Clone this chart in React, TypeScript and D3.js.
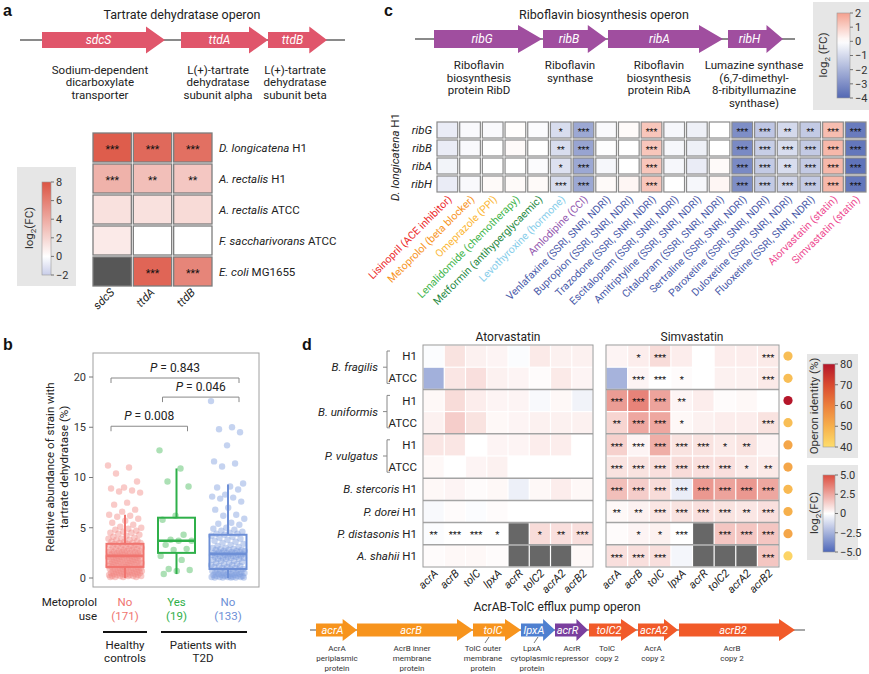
import React from 'react';
import * as d3 from 'd3';

const FONT = "Roboto, 'Liberation Sans', Arial, sans-serif";
const MINUS = '\u2212';

// ---------- panel a: tartrate dehydratase operon ----------
const ttdGenes = ['sdcS', 'ttdA', 'ttdB'];
const ttdGeneStart = [0, 1.39, 2.26];
const ttdGeneEnd = [1.23, 2.26, 2.85];
const ttdNoteAt = [0.58, 1.76, 2.53];
const ttdNotes = [
  ['Sodium-dependent', 'dicarboxylate', 'transporter'],
  ['L(+)-tartrate', 'dehydratase', 'subunit alpha'],
  ['L(+)-tartrate', 'dehydratase', 'subunit beta'],
];
const ttdSpecies = ['D. longicatena', 'A. rectalis', 'A. rectalis', 'F. saccharivorans', 'E. coli'];
const ttdStrain = ['H1', 'H1', 'ATCC', 'ATCC', 'MG1655'];
const ttdLog2FC = [
  [7.6, 7.0, 6.7],
  [3.6, 3.0, 2.6],
  [1.4, 1.4, 1.7],
  [1.0, 0, 0],
  [null, 7.2, 5.7],
];
const ttdStars = [
  ['***', '***', '***'],
  ['***', '**', '**'],
  ['', '', ''],
  ['', '', ''],
  ['', '***', '***'],
];
const ttdTicks = [8, 6, 4, 2, 0, -2];

// ---------- panel b: metoprolol box plot ----------
const bUse = ['No', 'Yes', 'No'];
const bCounts = ['(171)', '(19)', '(133)'];
const bColors = ['#f0746f', '#2fb04a', '#6d8fd6'];
const bPointColors = ['#f28a85', '#47ba5c', '#7f9edd'];
const healthyNo = [
  11.2, 11.0, 10.4, 9.6, 9.0, 8.9, 8.7, 8.6, 8.5, 7.5, 7.3, 6.8, 6.6, 6.3, 6.2, 6.1, 5.9, 5.7, 5.5, 5.3, 5.1, 5.0,
  4.9, 4.8, 4.7, 4.6, 4.5, 4.5, 4.4, 4.3, 4.2, 4.1, 4.0, 3.9, 3.9, 3.8, 3.8, 3.7, 3.6, 3.6, 3.5, 3.5, 3.5,
  3.4, 3.4, 3.3, 3.3, 3.3, 3.2, 3.2, 3.2, 3.1, 3.1, 3.0, 3.0, 3.0, 2.9, 2.9, 2.9, 2.8, 2.8, 2.8, 2.7, 2.7, 2.7,
  2.6, 2.6, 2.6, 2.6, 2.5, 2.5, 2.5, 2.5, 2.4, 2.4, 2.4, 2.4, 2.3, 2.3, 2.3, 2.3, 2.3, 2.2, 2.2, 2.2, 2.2,
  2.1, 2.1, 2.1, 2.1, 2.0, 2.0, 2.0, 2.0, 1.9, 1.9, 1.9, 1.9, 1.8, 1.8, 1.8, 1.8, 1.7, 1.7, 1.7, 1.7, 1.6, 1.6,
  1.6, 1.6, 1.5, 1.5, 1.5, 1.5, 1.4, 1.4, 1.4, 1.4, 1.3, 1.3, 1.3, 1.3, 1.2, 1.2, 1.2, 1.2, 1.1, 1.1, 1.1,
  1.0, 1.0, 1.0, 1.0, 0.9, 0.9, 0.9, 0.9, 0.8, 0.8, 0.8, 0.8, 0.7, 0.7, 0.7, 0.7, 0.6, 0.6, 0.6, 0.6, 0.5, 0.5,
  0.5, 0.5, 0.4, 0.4, 0.4, 0.4, 0.3, 0.3, 0.3, 0.3, 0.3, 0.2, 0.2, 0.2, 0.2, 0.2, 0.1, 0.1, 0.1, 0.1,
];
const t2dYes = [12.7, 10.9, 9.6, 9.1, 6.2, 5.8, 4.3, 3.8, 3.7, 3.7, 3.3, 2.9, 2.8, 2.2, 1.8, 0.9, 0.8, 0.7, 0.4];
const t2dNo = [
  17.6, 15.0, 14.8, 14.5, 13.2, 11.6, 11.4, 11.1, 9.4, 9.1, 9.0, 8.8, 8.3, 8.1, 8.0, 7.9, 7.6, 7.0, 6.8, 6.3, 6.2,
  5.9, 5.5, 5.4, 5.3, 5.0, 4.9, 4.8, 4.7, 4.6, 4.5, 4.4, 4.4,
  4.3, 4.2, 4.1, 4.0, 3.9, 3.8, 3.7, 3.6, 3.5, 3.4, 3.3, 3.2, 3.1, 3.0, 3.0, 2.9, 2.9, 2.8, 2.8, 2.8, 2.7, 2.7,
  2.7, 2.6, 2.6, 2.6, 2.5, 2.5, 2.5, 2.5, 2.4, 2.4, 2.4,
  2.3, 2.3, 2.3, 2.2, 2.2, 2.2, 2.1, 2.1, 2.1, 2.0, 2.0, 2.0, 1.9, 1.9, 1.9, 1.8, 1.7, 1.7, 1.6, 1.5, 1.5, 1.4,
  1.4, 1.3, 1.3, 1.2, 1.2, 1.1, 1.1, 1.0, 1.0, 0.9, 0.9,
  0.8, 0.8, 0.8, 0.7, 0.7, 0.7, 0.6, 0.6, 0.6, 0.5, 0.5, 0.5, 0.4, 0.4, 0.4, 0.3, 0.3, 0.3, 0.3, 0.2, 0.2, 0.2,
  0.2, 0.2, 0.1, 0.1, 0.1, 0.1, 0.1, 0.05, 0.05, 0.05, 0.05, 0.05,
];
const bValues = [healthyNo, t2dYes, t2dNo];
const boxQ1 = [1.1, 2.5, 0.9];
const boxMedian = [2.2, 3.7, 2.4];
const boxQ3 = [3.4, 6.0, 4.3];
const whiskerLo = [0, 0.4, 0];
const whiskerHi = [6.3, 10.9, 9.3];
const pTexts = ['0.843', '0.046', '0.008'];
const pFrom = [0, 1, 0];
const pTo = [2, 2, 1];
const pLevel = [19.9, 18.0, 15.1];
const bTicks = [0, 5, 10, 15, 20];

// ---------- panel c: riboflavin operon ----------
const ribGenes = ['ribG', 'ribB', 'ribA', 'ribH'];
const ribGeneStart = [0, 1.09, 1.74, 2.94];
const ribGeneEnd = [1.08, 1.73, 2.89, 3.49];
const ribNoteAt = [0.45, 1.36, 2.25, 3.2];
const ribNotes = [
  ['Riboflavin', 'biosynthesis', 'protein RibD'],
  ['Riboflavin', 'synthase'],
  ['Riboflavin', 'biosynthesis', 'protein RibA'],
  ['Lumazine synthase', '(6,7-dimethyl-', '8-ribityllumazine', 'synthase)'],
];
const drugs = [
  'Lisinopril (ACE inhibitor)', 'Metoprolol (beta blocker)', 'Omeprazole (PPI)', 'Lenalidomide (chemotherapy)',
  'Metformin (antihyperglycaemic)', 'Levothyroxine (hormone)', 'Amlodipine (CCI)', 'Venlafaxine (SSRI, SNRI, NDRI)',
  'Bupropion (SSRI, SNRI, NDRI)', 'Trazodone (SSRI, SNRI, NDRI)', 'Escitalopram (SSRI, SNRI, NDRI)',
  'Amitriptyline (SSRI, SNRI, NDRI)', 'Citalopram (SSRI, SNRI, NDRI)', 'Sertraline (SSRI, SNRI, NDRI)',
  'Paroxetine (SSRI, SNRI, NDRI)', 'Duloxetine (SSRI, SNRI, NDRI)', 'Fluoxetine (SSRI, SNRI, NDRI)',
  'Atorvastatin (statin)', 'Simvastatin (statin)',
];
const drugColors = [
  '#ec2a2c', '#f7941d', '#fbb735', '#3fb54c', '#26893f', '#86cdea', '#9358b0', '#4a5aa9', '#4a5aa9', '#4a5aa9',
  '#4a5aa9', '#4a5aa9', '#4a5aa9', '#4a5aa9', '#4a5aa9', '#4a5aa9', '#4a5aa9', '#ee4a91', '#ee4a91',
];
// rows: ribG, ribB, ribA, ribH ; one column per drug
const ribLog2FC = [
  [-0.5, -0.15, -0.15, 0.05, -0.1, -0.9, -2.3, -0.15, 0.1, 1.2, -0.2, -0.4, 0, -3.0, -1.5, -1.0, -1.4, 1.4, -3.5],
  [-0.5, -0.15, 0, 0.1, 0, -0.9, -2.4, -0.05, 0, 1.2, -0.2, -0.4, 0, -3.1, -1.3, -0.9, -1.4, 1.5, -3.6],
  [-0.3, 0, 0, 0, -0.1, -0.8, -2.3, -0.2, 0, 1.2, -0.2, -0.5, 0.1, -3.1, -1.4, -0.9, -1.4, 1.5, -3.7],
  [-0.5, -0.15, 0.1, 0.1, 0.1, -0.9, -2.3, 0.1, 0.2, 1.2, 0, -0.2, 0.2, -3.0, -1.4, -1.1, -1.4, 1.5, -3.6],
];
const ribStars = [
  ['', '', '', '', '', '*', '***', '', '', '***', '', '', '', '***', '***', '**', '**', '***', '***'],
  ['', '', '', '', '', '**', '***', '', '', '***', '', '', '', '***', '***', '***', '***', '***', '***'],
  ['', '', '', '', '', '*', '***', '', '', '***', '', '', '', '***', '***', '**', '***', '***', '***'],
  ['', '', '', '', '', '***', '***', '', '', '***', '', '', '', '***', '***', '***', '***', '***', '***'],
];
const ribTicks = [2, 1, 0, -1, -2, -3, -4];

// ---------- panel d: AcrAB-TolC operon ----------
const acrGenes = ['acrA', 'acrB', 'tolC', 'lpxA', 'acrR', 'tolC2', 'acrA2', 'acrB2'];
const acrGeneStart = [0, 0.41, 1.57, 2.05, 2.39, 2.73, 3.22, 3.63];
const acrGeneEnd = [0.41, 1.57, 2.05, 2.39, 2.72, 3.21, 3.62, 4.79];
const acrGeneColors = ['#f7941d', '#f7941d', '#f7941d', '#4f80d0', '#7a3f9e', '#f15a29', '#f15a29', '#f15a29'];
const acrNoteAt = [0.21, 0.96, 1.67, 2.16, 2.56, 2.91, 3.37, 4.16];
const acrNotes = [
  ['AcrA', 'periplasmic', 'protein'],
  ['AcrB inner', 'membrane', 'protein'],
  ['TolC outer', 'membrane', 'protein'],
  ['LpxA', 'cytoplasmic', 'protein'],
  ['AcrR', 'repressor'],
  ['TolC', 'copy 2'],
  ['AcrA', 'copy 2'],
  ['AcrB', 'copy 2'],
];
const acrLeader = [false, false, true, true, false, false, false, false];
const dSpecies = ['B. fragilis', 'B. fragilis', 'B. uniformis', 'B. uniformis', 'P. vulgatus', 'P. vulgatus',
  'B. stercoris', 'P. dorei', 'P. distasonis', 'A. shahii'];
const dStrain = ['H1', 'ATCC', 'H1', 'ATCC', 'H1', 'ATCC', 'H1', 'H1', 'H1', 'H1'];
const operonIdentity = [47, 47, 80, 47, 52, 52, 48, 50, 52, 42];
const atorvaFC = [
  [-0.1, 0.8, 0.4, 0.3, -0.1, 0.6, 0.4, 0.4],
  [-2.6, 0.7, 0.9, 0.4, 0.3, 0.1, 0.6, 0.3],
  [0.2, 1.0, 0.5, 0.3, 0.3, -0.2, 0.2, -0.4],
  [0.4, 1.4, 0.8, 0.2, 0.3, 0.4, 0.4, 0.4],
  [0.7, 0.7, 0, 0.3, 0.3, 0.5, 0.5, 0],
  [0.2, 0, 0.3, 0.4, 0, 0, 0, 0],
  [0.2, 0.3, 0.1, 0.2, -0.5, 0.2, 0.5, 0.2],
  [-0.2, 0.1, -0.1, 0.1, 0, 0, 0, 0],
  [-0.1, 0, 0, 0, null, 1.0, 0.9, 0.9],
  [0.1, 0.2, 0.2, 0.1, null, null, null, 0.2],
];
const atorvaStars = [
  ['', '', '', '', '', '', '', ''],
  ['', '', '', '', '', '', '', ''],
  ['', '', '', '', '', '', '', ''],
  ['', '', '', '', '', '', '', ''],
  ['', '', '', '', '', '', '', ''],
  ['', '', '', '', '', '', '', ''],
  ['', '', '', '', '', '', '', ''],
  ['', '', '', '', '', '', '', ''],
  ['**', '***', '***', '*', '', '*', '**', '***'],
  ['', '', '', '', '', '', '', ''],
];
const simvaFC = [
  [0.3, 0.5, 1.0, 0.5, 0, 0.5, 0.5, 0.6],
  [-2.5, 0.3, 0, 0.1, 0, 0.4, 0.4, 0.6],
  [2.8, 3.5, 2.6, 0.3, 0.5, 0.1, 0.2, 0],
  [1.2, 2.5, 2.5, 0.2, 0.4, 0.5, 0.5, 0.8],
  [1.3, 0.3, 2.3, 0.8, 0.8, 0.6, 0.8, 0.3],
  [0.8, 0.8, 0.9, 1.0, 0.9, 0.9, 0.6, 0.6],
  [1.8, 1.4, 1.0, -0.6, 2.9, 2.6, 2.9, 2.5],
  [0.2, 0.4, 0.7, 0.8, 0.9, 0.8, 0.7, 0.9],
  [0.1, 0.3, 0.4, 0, null, 1.6, 1.6, 1.6],
  [0.9, 0.9, 0.9, -0.3, null, null, null, 1.6],
];
const simvaStars = [
  ['', '*', '***', '', '', '', '', '***'],
  ['', '***', '***', '*', '', '', '', '***'],
  ['***', '***', '***', '**', '', '', '', ''],
  ['**', '***', '***', '*', '', '', '', '***'],
  ['***', '***', '***', '***', '***', '*', '**', ''],
  ['***', '***', '***', '***', '***', '***', '*', '**'],
  ['***', '***', '***', '***', '***', '***', '***', '***'],
  ['**', '**', '***', '***', '***', '***', '**', '***'],
  ['', '*', '*', '***', '', '***', '***', '***'],
  ['***', '***', '***', '', '', '', '', '***'],
];
const identityTicks = [80, 70, 60, 50, 40];
const dFCTicks = [5, 2.5, 0, -2.5, -5];

// ---------- helpers ----------
function arrowPath(x0: number, x1: number, y: number, hb: number, hh: number, head: number) {
  const xh = Math.max(x0, x1 - head);
  return `M${x0},${y - hb}L${xh},${y - hb}L${xh},${y - hh}L${x1},${y}L${xh},${y + hh}L${xh},${y + hb}L${x0},${y + hb}Z`;
}

function ColorBar({ id, color, domain, x, y, w, h, ticks, fmt, fs }: any) {
  const ys = d3.scaleLinear().domain(domain).range([y + h, y]);
  const stops = d3.range(0, 1.0001, 0.05);
  return (
    <g>
      <defs>
        <linearGradient id={id} x1="0" y1="0" x2="0" y2="1">
          {stops.map((t: number) => (
            <stop key={t} offset={t} stopColor={color(domain[1] - t * (domain[1] - domain[0]))} />
          ))}
        </linearGradient>
      </defs>
      <rect x={x} y={y} width={w} height={h} fill={`url(#${id})`} stroke="#9a9a9a" strokeWidth={0.6} />
      {ticks.map((t: number) => (
        <g key={t}>
          <line x1={x + w} x2={x + w + 3} y1={ys(t)} y2={ys(t)} stroke="#555" strokeWidth={0.8} />
          <text x={x + w + 5} y={ys(t)} dy="0.35em" fontSize={fs} fill="#333">{fmt(t)}</text>
        </g>
      ))}
    </g>
  );
}

const fmtMinus = (v: number) => (v < 0 ? MINUS + Math.abs(v) : String(v));
const fmtMinus1 = (v: number) => (v < 0 ? MINUS + Math.abs(v).toFixed(1) : v === 0 ? '0' : v.toFixed(1));
const jitter = (i: number) => ((i * 0.6180339887) % 1) - 0.5;

function Log2Label({ x, y, fs, text }: any) {
  return (
    <text transform={`translate(${x},${y}) rotate(-90)`} textAnchor="middle" fontSize={fs} fill="#333">
      log<tspan dy={3} fontSize={fs * 0.7}>2</tspan><tspan dy={-3}>{text}</tspan>
    </text>
  );
}

const App = () => {
  // ---------- panel a ----------
  const ttdX = d3.scaleLinear().domain([0, 1]).range([42, 142]);
  const ttdCol = d3.scaleBand<string>().domain(ttdGenes).range([92, 213]);
  const ttdRow = d3.scaleBand<number>().domain(d3.range(ttdSpecies.length)).range([132, 287]);
  const colorA = d3.scaleLinear<string>().domain([-2, 0, 8]).range(['#c8cde9', '#ffffff', '#dc5443']);

  // ---------- panel b ----------
  const bx = d3.scalePoint<number>().domain([0, 1, 2]).range([125, 228]);
  const by = d3.scaleLinear().domain([0, 20]).range([578, 377]);

  // ---------- panel c ----------
  const ribX = d3.scaleLinear().domain([0, 1]).range([434, 534]);
  const ribCol = d3.scaleBand<number>().domain(d3.range(drugs.length)).range([436, 867]);
  const ribRow = d3.scaleBand<string>().domain(ribGenes).range([121, 193]);
  const colorC = d3.scaleLinear<string>().domain([-4, 0, 2]).range(['#5368b3', '#ffffff', '#f4a08e']);

  // ---------- panel d ----------
  const dRow = d3.scaleBand<number>().domain(d3.range(dSpecies.length)).range([345, 567]);
  const atorCol = d3.scaleBand<string>().domain(acrGenes).range([423, 593]);
  const simCol = d3.scaleBand<string>().domain(acrGenes).range([606, 779]);
  const colorD = d3.scaleLinear<string>().domain([-5, 0, 5]).range(['#4d67b9', '#ffffff', '#dc4e40']);
  const colorId = d3.scaleLinear<string>().domain([40, 50, 60, 70, 80])
    .range(['#fedd6c', '#f6b04c', '#ec7f3c', '#d94a30', '#b5162a']);
  const acrX = d3.scaleLinear().domain([0, 1]).range([316, 416]);

  // species groups for panel d labels
  const groups: { name: string; start: number; end: number }[] = [];
  dSpecies.forEach((s, i) => {
    const g = groups[groups.length - 1];
    if (g && g.name === s) g.end = i;
    else groups.push({ name: s, start: i, end: i });
  });

  const dHeat = (col: any, fc: (number | null)[][], stars: string[][], key: string) => (
    <g key={key}>
      {fc.map((row, r) => row.map((v, c) => {
        const x = col(acrGenes[c]);
        const y = dRow(r)!;
        return (
          <g key={`${r}-${c}`}>
            <rect x={x + 0.6} y={y + 0.6} width={col.bandwidth() - 1.2} height={dRow.bandwidth() - 1.2}
              fill={v === null ? '#676767' : colorD(v)} />
            {stars[r][c] && (
              <text x={x + col.bandwidth() / 2} y={y + dRow.bandwidth() / 2} dy="0.5em" textAnchor="middle"
                fontSize={9.5} fill="#111">{stars[r][c]}</text>
            )}
          </g>
        );
      }))}
      {groups.slice(1).map((g) => (
        <line key={g.name} x1={col.range()[0]} x2={col.range()[1]} y1={dRow(g.start)} y2={dRow(g.start)}
          stroke="#a3a3a3" strokeWidth={1.5} />
      ))}
      <rect x={col.range()[0]} y={345} width={col.range()[1] - col.range()[0]} height={222}
        fill="none" stroke="#9a9a9a" strokeWidth={1} />
      {acrGenes.map((g) => (
        <text key={g} transform={`translate(${col(g)! + col.bandwidth() / 2 + 5},${574}) rotate(-45)`}
          textAnchor="end" fontSize={11} fontStyle="italic" fill="#222">{g}</text>
      ))}
    </g>
  );

  return (
    <svg width={869} height={674} style={{ position: 'absolute', left: 0, top: 0, background: '#fff' }}
      fontFamily={FONT}>
      {/* panel letters */}
      <g fontWeight="bold" fontSize={16} fill="#111" fontFamily="'Liberation Sans', Arial, sans-serif">
        <text x={3} y={16}>a</text>
        <text x={3} y={350}>b</text>
        <text x={384} y={16}>c</text>
        <text x={302} y={350}>d</text>
      </g>

      {/* ================= panel a ================= */}
      <text x={182} y={15} dy="0.35em" textAnchor="middle" fontSize={12.5} fill="#222">Tartrate dehydratase operon</text>
      <line x1={ttdX(-0.22)} x2={ttdX(3.03)} y1={40} y2={40} stroke="#8a8a8a" strokeWidth={2} />
      {ttdGenes.map((g, i) => {
        const x0 = ttdX(ttdGeneStart[i]);
        const x1 = ttdX(ttdGeneEnd[i]);
        return (
          <g key={g}>
            <path d={arrowPath(x0, x1, 40, 8, 13.5, Math.min(19, (x1 - x0) * 0.3))} fill="#e0566b" />
            <text x={(x0 + x1 - 10) / 2} y={40} dy="0.35em" textAnchor="middle" fontSize={12}
              fontStyle="italic" fill="#fff">{g}</text>
            {ttdNotes[i].map((t, k) => (
              <text key={k} x={ttdX(ttdNoteAt[i])} y={70 + k * 12.4} dy="0.35em" textAnchor="middle"
                fontSize={11.5} fill="#222">{t}</text>
            ))}
          </g>
        );
      })}
      {ttdLog2FC.map((row, r) => row.map((v, c) => {
        const x = ttdCol(ttdGenes[c])!;
        const y = ttdRow(r)!;
        return (
          <g key={`a${r}-${c}`}>
            <rect x={x + 1} y={y + 1} width={ttdCol.bandwidth() - 2} height={ttdRow.bandwidth() - 2}
              fill={v === null ? '#575757' : colorA(v)} stroke="#7d7d7d" strokeWidth={1.3} />
            {ttdStars[r][c] && (
              <text x={x + ttdCol.bandwidth() / 2} y={y + ttdRow.bandwidth() / 2} dy="0.5em" textAnchor="middle"
                fontSize={10.5} fill="#111">{ttdStars[r][c]}</text>
            )}
          </g>
        );
      }))}
      {ttdSpecies.map((s, r) => (
        <text key={r} x={219} y={ttdRow(r)! + ttdRow.bandwidth() / 2} dy="0.35em" fontSize={11.5} fill="#222">
          <tspan fontStyle="italic">{s}</tspan> {ttdStrain[r]}
        </text>
      ))}
      {ttdGenes.map((g) => (
        <text key={g} transform={`translate(${ttdCol(g)! + ttdCol.bandwidth() / 2 + 3},${293}) rotate(-45)`}
          textAnchor="end" fontSize={11.5} fontStyle="italic" fill="#222">{g}</text>
      ))}
      <rect x={17} y={167} width={59} height={119} fill="#e6e6e6" />
      <ColorBar id="cbA" color={colorA} domain={[-2, 8]} x={42} y={182} w={9} h={93} ticks={ttdTicks}
        fmt={fmtMinus} fs={11} />
      <Log2Label x={33} y={228} fs={11.5} text="(FC)" />

      {/* ================= panel b ================= */}
      <rect x={93} y={353} width={166} height={234} fill="none" stroke="#a0a0a0" strokeWidth={1} />
      {bTicks.map((t) => (
        <g key={t}>
          <line x1={89} x2={93} y1={by(t)} y2={by(t)} stroke="#777" />
          <text x={86} y={by(t)} dy="0.35em" textAnchor="end" fontSize={11} fill="#333">{t}</text>
        </g>
      ))}
      <text transform={`translate(50,${467}) rotate(-90)`} textAnchor="middle" fontSize={11.5} fill="#222">
        <tspan x={0} dy="0.35em">Relative abundance of strain with</tspan>
        <tspan x={0} dy={14}>tartrate dehydratase (%)</tspan>
      </text>
      {bValues.map((vals, g) => vals.map((v, i) => (
        <circle key={`p${g}-${i}`} cx={bx(g)! + jitter(i) * 34} cy={by(v)} r={3.2}
          fill={bPointColors[g]} fillOpacity={0.45} />
      )))}
      {bValues.map((_, g) => {
        const cx = bx(g)!;
        return (
          <g key={`box${g}`} stroke={bColors[g]} strokeWidth={2} fill="none">
            <line x1={cx} x2={cx} y1={by(whiskerLo[g])} y2={by(boxQ1[g])} />
            <line x1={cx} x2={cx} y1={by(boxQ3[g])} y2={by(whiskerHi[g])} />
            <rect x={cx - 18.5} y={by(boxQ3[g])} width={37} height={by(boxQ1[g]) - by(boxQ3[g])} />
            <line x1={cx - 18.5} x2={cx + 18.5} y1={by(boxMedian[g])} y2={by(boxMedian[g])} strokeWidth={2.6} />
          </g>
        );
      })}
      {pTexts.map((p, k) => {
        const xa = bx(pFrom[k])! - 14;
        const xb = bx(pTo[k])! + 11;
        const y = by(pLevel[k]);
        return (
          <g key={p}>
            <path d={`M${xa},${y + 5}V${y}H${xb}V${y + 5}`} fill="none" stroke="#888" strokeWidth={1} />
            <text x={(xa + xb) / 2} y={y - 6} textAnchor="middle" fontSize={12} fill="#222">
              <tspan fontStyle="italic">P</tspan> = {p}
            </text>
          </g>
        );
      })}
      <text x={97} y={602} dy="0.35em" textAnchor="end" fontSize={11.5} fill="#222">Metoprolol</text>
      <text x={97} y={616} dy="0.35em" textAnchor="end" fontSize={11.5} fill="#222">use</text>
      {bUse.map((u, g) => (
        <g key={`u${g}`} fill={bColors[g]} fontSize={11.5} textAnchor="middle">
          <text x={bx(g)} y={602} dy="0.35em">{u}</text>
          <text x={bx(g)} y={616} dy="0.35em">{bCounts[g]}</text>
        </g>
      ))}
      <line x1={103} x2={147} y1={632} y2={632} stroke="#111" strokeWidth={2} />
      <line x1={161} x2={247} y1={632} y2={632} stroke="#111" strokeWidth={2} />
      <g fontSize={11.5} fill="#222" textAnchor="middle">
        <text x={bx(0)} y={645} dy="0.35em">Healthy</text>
        <text x={bx(0)} y={658} dy="0.35em">controls</text>
        <text x={203} y={645} dy="0.35em">Patients with</text>
        <text x={203} y={658} dy="0.35em">T2D</text>
      </g>

      {/* ================= panel c ================= */}
      <text x={604} y={15} dy="0.35em" textAnchor="middle" fontSize={12.5} fill="#222">Riboflavin biosynthesis operon</text>
      <line x1={ribX(-0.19)} x2={ribX(3.61)} y1={39} y2={39} stroke="#8a8a8a" strokeWidth={2} />
      {ribGenes.map((g, i) => {
        const x0 = ribX(ribGeneStart[i]);
        const x1 = ribX(ribGeneEnd[i]);
        return (
          <g key={g}>
            <path d={arrowPath(x0, x1, 39, 9, 14, Math.min(24, (x1 - x0) * 0.3))} fill="#a04e9f" />
            <text x={(x0 + x1 - 12) / 2} y={39} dy="0.35em" textAnchor="middle" fontSize={12}
              fontStyle="italic" fill="#fff">{g}</text>
            {ribNotes[i].map((t, k) => (
              <text key={k} x={ribX(ribNoteAt[i])} y={65 + k * 12.5} dy="0.35em" textAnchor="middle"
                fontSize={11.5} fill="#222">{t}</text>
            ))}
          </g>
        );
      })}
      <rect x={813} y={2} width={56} height={108} fill="#e6e6e6" />
      <ColorBar id="cbC" color={colorC} domain={[-4, 2]} x={837} y={13} w={13} h={85} ticks={ribTicks}
        fmt={fmtMinus} fs={11} />
      <Log2Label x={827} y={55} fs={11.5} text=" (FC)" />
      {ribLog2FC.map((row, r) => row.map((v, c) => {
        const x = ribCol(c)!;
        const y = ribRow(ribGenes[r])!;
        return (
          <g key={`c${r}-${c}`}>
            <rect x={x + 1} y={y + 1} width={ribCol.bandwidth() - 2} height={ribRow.bandwidth() - 2}
              fill={colorC(v)} stroke="#8a8a8a" strokeWidth={1.2} />
            {ribStars[r][c] && (
              <text x={x + ribCol.bandwidth() / 2} y={y + ribRow.bandwidth() / 2} dy="0.5em" textAnchor="middle"
                fontSize={9} fill="#111">{ribStars[r][c]}</text>
            )}
          </g>
        );
      }))}
      {ribGenes.map((g) => (
        <text key={g} x={432} y={ribRow(g)! + ribRow.bandwidth() / 2} dy="0.35em" textAnchor="end"
          fontSize={11.5} fontStyle="italic" fill="#222">{g}</text>
      ))}
      <text transform={`translate(${399},${157}) rotate(-90)`} textAnchor="middle" fontSize={11.5} fill="#222">
        <tspan fontStyle="italic">D. longicatena</tspan> H1
      </text>
      {drugs.map((d, c) => (
        <text key={d} transform={`translate(${ribCol(c)! + ribCol.bandwidth() / 2 + 5},${200}) rotate(-45)`}
          textAnchor="end" fontSize={10.5} fill={drugColors[c]}>{d}</text>
      ))}

      {/* ================= panel d ================= */}
      <text x={508} y={337} dy="0.35em" textAnchor="middle" fontSize={12} fill="#222">Atorvastatin</text>
      <text x={692} y={337} dy="0.35em" textAnchor="middle" fontSize={12} fill="#222">Simvastatin</text>
      {dHeat(atorCol, atorvaFC, atorvaStars, 'ator')}
      {dHeat(simCol, simvaFC, simvaStars, 'sim')}
      {groups.map((g) => {
        const yTop = dRow(g.start)!;
        const yBot = dRow(g.end)! + dRow.bandwidth();
        if (g.start === g.end) {
          return (
            <text key={g.name} x={417} y={(yTop + yBot) / 2} dy="0.35em" textAnchor="end" fontSize={11.5} fill="#222">
              <tspan fontStyle="italic">{g.name}</tspan> {dStrain[g.start]}
            </text>
          );
        }
        const ym = (yTop + yBot) / 2;
        return (
          <g key={g.name}>
            <text x={378} y={ym} dy="0.35em" textAnchor="end" fontSize={11.5} fontStyle="italic" fill="#222">{g.name}</text>
            <path d={`M390,${yTop + 6}H387V${yBot - 6}H390M387,${ym}H383`} fill="none" stroke="#888" strokeWidth={1} />
            {d3.range(g.start, g.end + 1).map((r) => (
              <text key={r} x={417} y={dRow(r)! + dRow.bandwidth() / 2} dy="0.35em" textAnchor="end"
                fontSize={11.5} fill="#222">{dStrain[r]}</text>
            ))}
          </g>
        );
      })}
      {operonIdentity.map((v, r) => (
        <circle key={`id${r}`} cx={788} cy={dRow(r)! + dRow.bandwidth() / 2} r={4.6} fill={colorId(v)} />
      ))}
      <rect x={807} y={354} width={51} height={104} fill="#e6e6e6" />
      <ColorBar id="cbId" color={colorId} domain={[40, 80]} x={823} y={364} w={12} h={83} ticks={identityTicks}
        fmt={(v: number) => String(v)} fs={11} />
      <text transform="translate(818,406) rotate(-90)" textAnchor="middle" fontSize={11.5} fill="#333">Operon identity (%)</text>
      <rect x={807} y={465} width={51} height={95} fill="#e6e6e6" />
      <ColorBar id="cbD" color={colorD} domain={[-5, 5]} x={823} y={475} w={12} h={77} ticks={dFCTicks}
        fmt={fmtMinus1} fs={11} />
      <Log2Label x={818} y={513} fs={11.5} text="(FC)" />

      {/* AcrAB-TolC operon */}
      <text x={557} y={607} dy="0.35em" textAnchor="middle" fontSize={12} fill="#222">AcrAB-TolC efflux pump operon</text>
      <line x1={acrX(-0.06)} x2={acrX(4.89)} y1={630} y2={630} stroke="#8a8a8a" strokeWidth={1.6} />
      {acrGenes.map((g, i) => {
        const x0 = acrX(acrGeneStart[i]);
        const x1 = acrX(acrGeneEnd[i]);
        const cx = acrX(acrNoteAt[i]);
        return (
          <g key={g}>
            <path d={arrowPath(x0, x1, 630, 6.5, 11, Math.min(16, (x1 - x0) * 0.35))} fill={acrGeneColors[i]} />
            <text x={(x0 + x1 - 8) / 2} y={630} dy="0.35em" textAnchor="middle" fontSize={11}
              fontStyle="italic" fill="#fff">{g}</text>
            {acrLeader[i] && <line x1={cx + 2} y1={643} x2={cx + 6} y2={637} stroke="#555" strokeWidth={0.8} />}
            {acrNotes[i].map((t, k) => (
              <text key={k} x={cx} y={648 + k * 10} dy="0.35em" textAnchor="middle" fontSize={8} fill="#333">{t}</text>
            ))}
          </g>
        );
      })}
    </svg>
  );
};

export default App;
